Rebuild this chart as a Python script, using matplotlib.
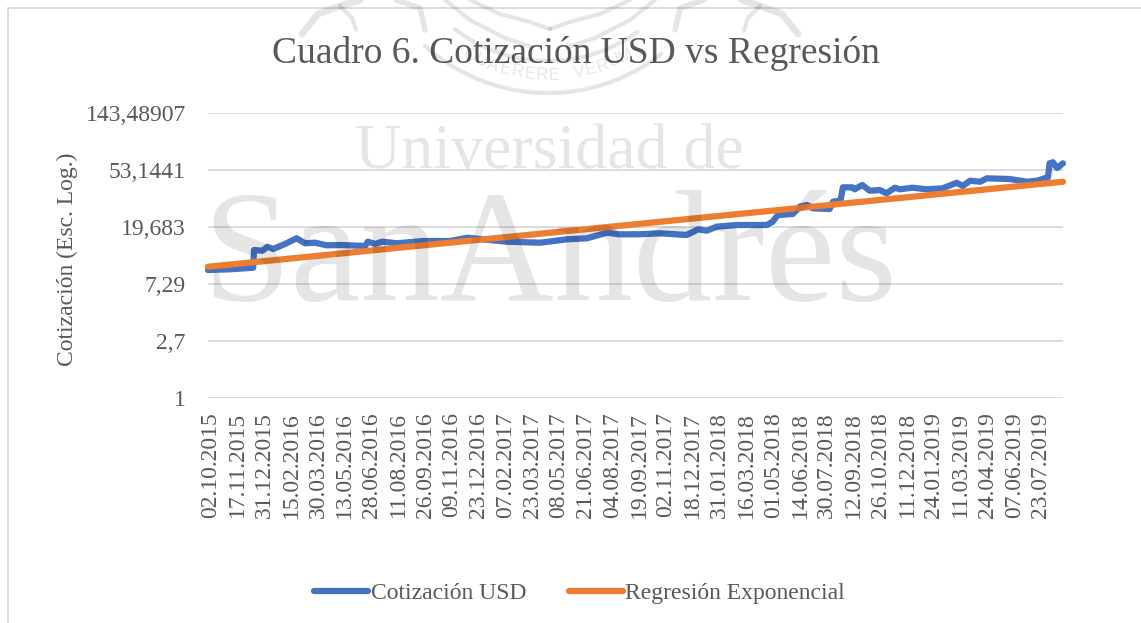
import numpy as np
import matplotlib
matplotlib.use("Agg")
import matplotlib.pyplot as plt
import matplotlib.transforms as mtrans
from matplotlib.lines import Line2D
from matplotlib.patches import Rectangle

plt.rcParams["font.family"] = ["Liberation Serif", "DejaVu Serif"]

W, H = 1141, 623

# one label every 32 quotes on the category axis
date_labels = ["02.10.2015", "17.11.2015", "31.12.2015", "15.02.2016", "30.03.2016", "13.05.2016",
               "28.06.2016", "11.08.2016", "26.09.2016", "09.11.2016", "23.12.2016", "07.02.2017",
               "23.03.2017", "08.05.2017", "21.06.2017", "04.08.2017", "19.09.2017", "02.11.2017",
               "18.12.2017", "31.01.2018", "16.03.2018", "01.05.2018", "14.06.2018", "30.07.2018",
               "12.09.2018", "26.10.2018", "11.12.2018", "24.01.2019", "11.03.2019", "24.04.2019",
               "07.06.2019", "23.07.2019"]
y_ticks = [1, 2.7, 7.29, 19.683, 53.1441, 143.48907]
y_labels = ["1", "2,7", "7,29", "19,683", "53,1441", "143,48907"]

# quotes
usd_obs = [0, 26, 54, 55, 65, 71, 78, 92, 106, 116, 128, 142, 158, 188, 191, 200, 208, 226, 257, 289,
           310, 329, 357, 397, 429, 453, 477, 492, 516, 540, 572, 586, 596, 608, 632, 668, 675, 681,
           699, 707, 716, 723, 743, 747, 756, 759, 770, 773, 782, 791, 803, 811, 821, 827, 842, 859,
           878, 895, 902, 911, 923, 931, 958, 979, 991, 1004, 1006, 1010, 1015, 1022]
usd_val = [9.30, 9.42, 9.68, 13.18, 13.02, 13.96, 13.41, 14.64, 16.17, 14.82, 14.97, 14.31, 14.38,
           14.14, 15.24, 14.64, 15.24, 14.82, 15.42, 15.42, 16.33, 15.88, 15.24, 14.97, 15.88, 16.17,
           17.82, 17.33, 17.33, 17.64, 17.12, 18.91, 18.45, 19.79, 20.38, 20.38, 21.58, 24.26, 24.68,
           28.03, 28.87, 27.26, 26.93, 30.59, 31.12, 39.30, 39.30, 37.96, 40.93, 37.04, 37.49, 35.41,
           39.03, 37.96, 39.03, 37.96, 38.63, 42.59, 40.20, 44.09, 43.32, 45.97, 45.42, 43.32, 44.09,
           46.80, 59.70, 60.80, 55.00, 59.70]
reg_obs = [0, 1022]
reg_val = [9.85, 43.3]


def px(x, y):
    return x / W, 1 - y / H


def mark_line(xs, ys, lw):
    # watermark stroke, given in picture pixels
    fx, fy = px(np.asarray(xs, float), np.asarray(ys, float))
    fig.add_artist(Line2D(fx, fy, transform=fig.transFigure, color="black", alpha=0.1, lw=lw,
                          solid_capstyle="round", zorder=5))


def seal_arc(r, a0, a1, lw):
    t = np.radians(np.linspace(a0, a1, 60))
    mark_line(548 + r * np.sin(t), -91 + r * np.cos(t), lw)


fig = plt.figure(figsize=(W / 100, H / 100), dpi=100)
ax = fig.add_axes([208 / W, 1 - 398 / H, (1063 - 208) / W, (398 - 113) / H])
ax.patch.set_alpha(0)

ax.set_yscale("log", base=2.7)
ax.set_ylim(1, 143.48907)
ax.set_xlim(0, 1022)
ax.set_yticks(y_ticks)
ax.set_yticklabels(y_labels)
ax.minorticks_off()
ax.yaxis.grid(True, color="#d9d9d9", lw=1.3)
ax.set_axisbelow(True)
ax.set_xticks(np.arange(len(date_labels)) * 32)
ax.set_xticklabels(date_labels, rotation=90)
ax.tick_params(axis="both", length=0, labelsize=17, labelcolor="#595959")
ax.tick_params(axis="x", pad=10)
ax.tick_params(axis="y", pad=16)
shift = mtrans.ScaledTranslation(3 / 100, 0, fig.dpi_scale_trans)
for t in ax.get_xticklabels():
    t.set_transform(t.get_transform() + shift)
for s in ax.spines.values():
    s.set_visible(False)

ax.plot(usd_obs, usd_val, color="#4472c4", lw=4.5, solid_capstyle="round", solid_joinstyle="round",
        label="Cotización USD", clip_on=False)
ax.plot(reg_obs, reg_val, color="#ed7d31", lw=4.5, solid_capstyle="round",
        label="Regresión Exponencial", clip_on=False)
ax.set_ylabel("Cotización (Esc. Log.)", fontsize=17, color="#595959")
ax.yaxis.set_label_coords((78 - 208) / (1063 - 208), 0.5 - 4 / 285)

fig.text(576 / W, 1 - 63 / H, "Cuadro 6. Cotización USD vs Regresión", fontsize=27, color="#595959",
         ha="center", va="baseline")

fig.legend(loc="center", bbox_to_anchor=px(579.5, 593), ncol=2, frameon=False, fontsize=17,
           handlelength=2.3, handletextpad=0.1, columnspacing=1.8, labelcolor="#595959")

# chart frame
fig.add_artist(Rectangle((8 / W, -0.1), 1.2, 1.1 - 8 / H, transform=fig.transFigure, fill=False,
                         ec="#d9d9d9", lw=1.3))

# watermark sits over the chart and tints it
fig.text(549 / W, 1 - 168 / H, "Universidad de", fontsize=46, color="black", alpha=0.1,
         ha="center", va="baseline", zorder=5)
fig.text(550 / W, 1 - 300 / H, "SanAndrés", fontsize=114, color="black", alpha=0.1,
         ha="center", va="baseline", zorder=5)

# university seal, cut off by the top of the picture
seal_arc(184, -42, 38, 3)
seal_arc(152, -38, 36, 3)
for k, ch in enumerate("QUAERERE VERUM"):
    ang = (k - 6.5) * 12.5 / 166
    tx, ty = px(548 + 166 * np.sin(ang), -91 + 166 * np.cos(ang))
    fig.text(tx, ty, ch, fontsize=12, family=["Liberation Sans"], color="black", alpha=0.1,
             ha="center", va="center", rotation=np.degrees(ang), zorder=5)
mark_line([470, 500, 530, 550], [0, 14, 22, 29], 3)
mark_line([630, 600, 570, 550], [0, 14, 22, 29], 3)
mark_line([445, 470, 505, 532], [0, 20, 38, 47], 3)
mark_line([655, 630, 595, 568], [0, 20, 38, 47], 3)
mark_line([302, 318, 340, 360], [34, 14, 6, 0], 5)
mark_line([340, 352, 356], [6, 18, 30], 3)
mark_line([798, 782, 760, 742], [34, 14, 6, 0], 5)
mark_line([760, 748, 744], [6, 18, 30], 3)
mark_line([396, 420, 425], [0, 8, 30], 4)
mark_line([704, 680, 675], [0, 8, 30], 4)

fig.savefig("out.png", dpi=100)
